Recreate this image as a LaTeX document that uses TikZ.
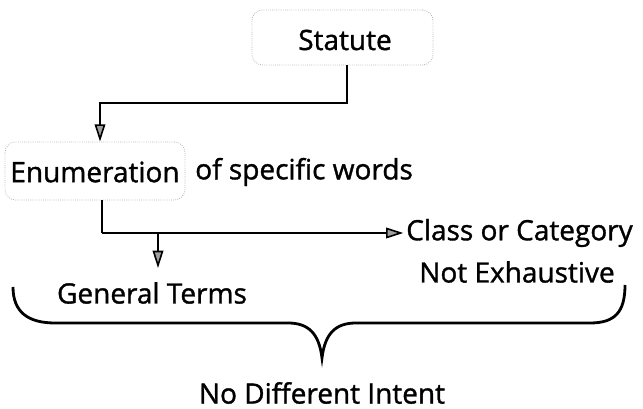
\documentclass[tikz,border=0pt]{standalone}
\usepackage{fontspec}
\setmainfont{Open Sans}[BoldFont={Open Sans},BoldFeatures={FakeBold=1.2}]
\usetikzlibrary{arrows.meta}
\begin{document}
\begin{tikzpicture}[x=0.75pt,y=-0.75pt,
  txt/.style={inner sep=0pt,font=\fontsize{21}{23}\selectfont\bfseries},
  dotbox/.style={draw=gray!60,densely dotted,rounded corners=8pt,line width=0.6pt},
  conn/.style={line width=2.1pt},
  arr/.style={conn,-{Triangle[length=13pt,width=8pt,fill=gray!75,line width=1.2pt]}}]
\useasboundingbox (0,0) rectangle (643,409);
% boxes
\node[dotbox,minimum width=181*0.75pt,minimum height=55*0.75pt] (statutebox) at (342.5,37.5) {};
\node[txt] (statute) at (345,40) {Statute};
\node[dotbox,minimum width=180*0.75pt,minimum height=58*0.75pt] (enumbox) at (95,171) {};
\node[txt] (enum) at (95,172) {Enumeration};
\node[txt,anchor=west] (ofwords) at (195,172) {of specific words};
\node[txt,anchor=west] (classcat) at (406,233) {Class or Category};
\node[txt,anchor=east] (notex) at (615,272) {Not Exhaustive};
\node[txt] (general) at (152,293) {General Terms};
\node[txt] (nodiff) at (322,393) {No Different Intent};
% connectors
\coordinate (s1) at (347,103);
\coordinate (s2) at (100,103);
\draw[arr] (s1 |- statutebox.south) -- (s1) -- (s2) -- (s2 |- enumbox.north);
\coordinate (e1) at (102,233);
\coordinate (b1) at (158,233);
\draw[conn] (e1 |- enumbox.south) -- (e1);
\draw[arr] (e1) -- ([xshift=-2pt]classcat.west);
\draw[arr] (b1) -- (158,268);
% brace
\coordinate (bl) at (13,287);
\coordinate (br) at (625,285);
\coordinate (bt) at (322,358);
\draw[line width=2.1pt] (bl) .. controls (13,312) and (28,323) .. (55,323) -- (288,323)
  .. controls (308,323) and (319,333) .. (bt)
  .. controls (325,333) and (336,323) .. (356,323) -- (590,323)
  .. controls (615,323) and (625,312) .. (br);
\end{tikzpicture}
\end{document}
